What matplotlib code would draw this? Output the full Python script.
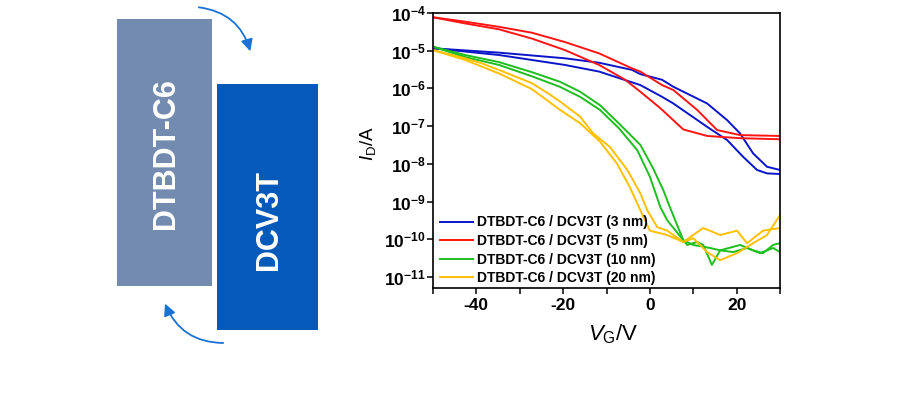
import matplotlib
matplotlib.use("Agg")
import matplotlib.pyplot as plt
from matplotlib.patches import Rectangle, FancyArrowPatch
from matplotlib.ticker import FixedLocator, NullLocator

plt.rcParams['font.family'] = ['Liberation Sans', 'DejaVu Sans']
plt.rcParams['mathtext.fontset'] = 'custom'
plt.rcParams['mathtext.rm'] = 'Liberation Sans'
plt.rcParams['mathtext.it'] = 'Liberation Sans:italic'
plt.rcParams['mathtext.bf'] = 'Liberation Sans:bold'

# ---- data (V_G in V, I_D in A); two sweeps per device ----
blue_fwd_v = [-50, -34.8, -19.6, -11.7, -4.1, -2.2, 2.8, 5.4, 13.2, 17.8, 20.8, 23.8, 27.0, 30]
blue_fwd_i = [1.16e-5, 8.9e-6, 6.3e-6, 4.8e-6, 3.1e-6, 2.4e-6, 1.7e-6, 1.11e-6, 4.0e-7, 1.45e-7, 6.4e-8,
              1.9e-8, 8.4e-9, 6.9e-9]
blue_rev_v = [-50, -34.8, -19.6, -11.7, -2.2, 2.8, 5.4, 13.2, 17.8, 21.5, 24.7, 27.0, 30]
blue_rev_i = [1.16e-5, 7.7e-6, 4.2e-6, 2.8e-6, 1.23e-6, 6.0e-7, 4.0e-7, 9.6e-8, 4.3e-8, 1.54e-8, 6.9e-9,
              5.6e-9, 5.4e-9]

red_fwd_v = [-50, -42.6, -34.8, -27.2, -19.6, -11.7, -4.1, -2.2, 2.8, 5.4, 10.9, 15.5, 20.8, 30]
red_fwd_i = [7.7e-5, 5.9e-5, 4.3e-5, 3.0e-5, 1.7e-5, 8.5e-6, 3.4e-6, 2.8e-6, 1.23e-6, 9.1e-7, 2.7e-7, 7.9e-8,
             5.8e-8, 5.5e-8]
red_rev_v = [-50, -42.6, -34.8, -27.2, -19.6, -11.7, -5.7, -2.2, 2.4, 7.7, 13.2, 20.8, 30]
red_rev_i = [7.7e-5, 5.3e-5, 3.7e-5, 2.1e-5, 1.04e-5, 4.2e-6, 1.7e-6, 8.2e-7, 3.0e-7, 8.2e-8, 5.5e-8, 4.8e-8,
             4.5e-8]

green_fwd_v = [-50, -42.6, -34.8, -27.2, -20.7, -16.1, -11.5, -7.1, -2.2, 0.7, 3.1, 4.6, 7.7, 10.0, 13.9, 16.2,
               20.8, 23.8, 26.1, 28.4, 30]
green_fwd_i = [1.28e-5, 7.7e-6, 5.0e-6, 2.7e-6, 1.5e-6, 8.2e-7, 3.6e-7, 1.17e-7, 3.2e-8, 7.8e-9, 2.0e-9, 7.2e-10,
               9.5e-11, 7.1e-11, 5.9e-11, 5.1e-11, 7.1e-11, 5.1e-11, 4.3e-11, 7.1e-11, 7.9e-11]
green_rev_v = [-50, -42.6, -34.8, -27.2, -20.7, -16.1, -11.5, -7.1, -2.9, 0, 2.4, 4.0, 7.7, 8.6, 10.9, 12.3,
               14.3, 16.2, 19.2, 22.4, 25.4, 28.4, 30]
green_rev_i = [1.28e-5, 6.8e-6, 4.2e-6, 2.1e-6, 1.1e-6, 6.0e-7, 2.7e-7, 8.7e-8, 2.3e-8, 4.6e-9, 7.2e-10, 3.2e-10,
               9.5e-11, 7.1e-11, 8.5e-11, 7.1e-11, 2.1e-11, 5.1e-11, 4.6e-11, 5.9e-11, 4.3e-11, 5.9e-11, 4.6e-11]

yellow_fwd_v = [-50, -42.6, -38.7, -34.8, -27.2, -23.2, -20.7, -16.1, -13.1, -9.2, -5.2, -2.2, -0.6, 1.7, 4.0,
                7.7, 10.0, 13.2, 16.2, 20.1, 23.8, 27.0, 30]
yellow_fwd_i = [1.04e-5, 6.3e-6, 4.6e-6, 3.1e-6, 1.38e-6, 7.1e-7, 4.5e-7, 1.8e-7, 6.5e-8, 2.8e-8, 6.9e-9, 1.66e-9,
                5.9e-10, 2.1e-10, 1.7e-10, 8.5e-11, 1.07e-10, 4.6e-11, 2.8e-11, 4.3e-11, 7.9e-11, 1.3e-10, 4.4e-10]
yellow_rev_v = [-50, -42.6, -34.8, -27.2, -20.7, -16.1, -11.5, -7.6, -4.6, -2.2, 0, 4.0, 7.7, 12.3, 16.2, 20.1,
                22.4, 26.1, 30]
yellow_rev_i = [1.04e-5, 5.7e-6, 2.5e-6, 9.6e-7, 2.7e-7, 1.2e-7, 3.9e-8, 1.02e-8, 2.4e-9, 5.9e-10, 1.7e-10,
                1.3e-10, 8.5e-11, 2.0e-10, 1.3e-10, 1.7e-10, 7.9e-11, 1.7e-10, 2.0e-10]

series_labels = ['DTBDT-C6 / DCV3T (3 nm)', 'DTBDT-C6 / DCV3T (5 nm)',
                 'DTBDT-C6 / DCV3T (10 nm)', 'DTBDT-C6 / DCV3T (20 nm)']
series_colors = ['#0a14c8', '#ff1414', '#1ebe1e', '#ffc000']

x_ticks = [-40, -20, 0, 20]
x_minor = [-50, -30, -10, 10, 30]
y_ticks = [1e-11, 1e-10, 1e-9, 1e-8, 1e-7, 1e-6, 1e-5, 1e-4]
y_tick_labels = [r'$\mathbf{10^{-11}}$', r'$\mathbf{10^{-10}}$', r'$\mathbf{10^{-9}}$', r'$\mathbf{10^{-8}}$',
                 r'$\mathbf{10^{-7}}$', r'$\mathbf{10^{-6}}$', r'$\mathbf{10^{-5}}$', r'$\mathbf{10^{-4}}$']

fig = plt.figure(figsize=(9, 4), dpi=100)

# ---- left schematic (pixel-coordinate overlay) ----
sk = fig.add_axes([0, 0, 1, 1])
sk.set_xlim(0, 900)
sk.set_ylim(400, 0)
sk.axis('off')
sk.add_patch(Rectangle((117, 19), 95, 267, facecolor='#748bb0', edgecolor='none'))
sk.add_patch(Rectangle((217, 84), 101, 246, facecolor='#0559b8', edgecolor='none'))
sk.text(166, 154, 'DTBDT-C6', rotation=90, color='white', fontsize=22, fontweight='bold',
        ha='center', va='center')
sk.text(269, 220, 'DCV3T', rotation=90, color='white', fontsize=22, fontweight='bold',
        ha='center', va='center')
arrow_col = '#1a72d6'
sk.add_patch(FancyArrowPatch((196, 7), (251, 54), connectionstyle='arc3,rad=-0.35',
                             arrowstyle='-|>,head_length=7,head_width=3.5', color=arrow_col, lw=1.3))
sk.add_patch(FancyArrowPatch((226, 343), (164, 301), connectionstyle='arc3,rad=-0.35',
                             arrowstyle='-|>,head_length=7,head_width=3.5', color=arrow_col, lw=1.3))

# ---- transfer curves ----
ax = fig.add_axes([433 / 900, 1 - 288 / 400, (780 - 433) / 900, (288 - 13) / 400])
ax.set_yscale('log')
pairs = [(blue_fwd_v, blue_fwd_i, blue_rev_v, blue_rev_i),
         (red_fwd_v, red_fwd_i, red_rev_v, red_rev_i),
         (green_fwd_v, green_fwd_i, green_rev_v, green_rev_i),
         (yellow_fwd_v, yellow_fwd_i, yellow_rev_v, yellow_rev_i)]
for (fv, fi, rv, ri), lab, col in zip(pairs, series_labels, series_colors):
    ax.plot(fv, fi, color=col, lw=1.4, label=lab)
    ax.plot(rv, ri, color=col, lw=1.4)

ax.set_xlim(-50, 30)
ax.set_ylim(10 ** -11.29, 1e-4)
ax.xaxis.set_major_locator(FixedLocator(x_ticks))
ax.xaxis.set_minor_locator(FixedLocator(x_minor))
ax.yaxis.set_major_locator(FixedLocator(y_ticks))
ax.yaxis.set_minor_locator(NullLocator())
ax.set_yticklabels(y_tick_labels)
ax.set_xticklabels([f'{t}' for t in x_ticks])
for lbl in ax.get_xticklabels():
    lbl.set_fontweight('bold')
ax.tick_params(axis='both', which='both', direction='out', length=4, width=1.1, labelsize=12.5, pad=1)
ax.tick_params(axis='x', pad=3)
for s in ax.spines.values():
    s.set_linewidth(1.2)

ax.set_xlabel(r'$V_{\rm G}$/V', fontsize=16)
ax.xaxis.set_label_coords(0.519, -0.124)
ax.set_ylabel(r'$I_{\rm D}$/A', fontsize=13.5)
ax.yaxis.set_label_coords(-0.158, 0.524)

leg = ax.legend(loc='lower left', bbox_to_anchor=(-0.005, -0.02), frameon=False, handlelength=2.4,
                handletextpad=0.3, labelspacing=0.33, borderaxespad=0.2,
                prop={'weight': 'bold', 'size': 10})

fig.savefig('out.png', dpi=100)
